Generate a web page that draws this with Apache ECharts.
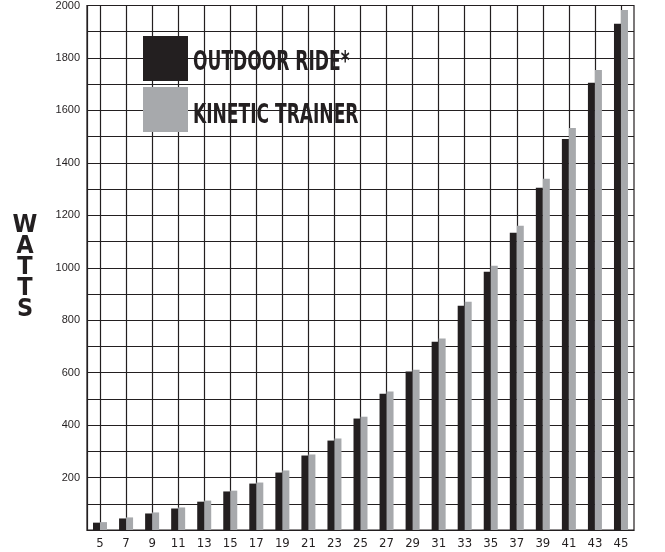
<!DOCTYPE html>
<html>
<head>
<meta charset="utf-8">
<script src="https://cdn.jsdelivr.net/npm/echarts@6/dist/echarts.min.js"></script>
<style>
html,body{margin:0;padding:0;background:#fff;}
#main{width:665px;height:552px;}
</style>
</head>
<body>
<div id="main"></div>
<script>
const speeds = ['5','7','9','11','13','15','17','19','21','23','25','27','29','31','33','35','37','39','41','43','45'];
const outdoorRide = [28,44,63,82,108,147,177,219,284,341,425,520,604,718,855,985,1133,1305,1491,1705,1930];
const kineticTrainer = [30,48,67,86,112,150,181,227,288,349,432,528,611,730,870,1008,1160,1339,1533,1754,1983];
const yTickLabels = [200,400,600,800,1000,1200,1400,1600,1800,2000];
const seriesNames = ['OUTDOOR RIDE*', 'KINETIC TRAINER'];

const ink = '#231f20';
const grey = '#a7a9ac';
const condensed = '"DejaVu Sans Condensed", "DejaVu Sans", sans-serif';
const chart = echarts.init(document.getElementById('main'));
chart.setOption({
  animation: false,
  backgroundColor: '#fff',
  grid: {left: 87, right: 31, top: 5, bottom: 22, show: true, borderColor: ink, borderWidth: 1.2, containLabel: false},
  legend: {
    orient: 'vertical', left: 143, top: 36, padding: 0,
    itemWidth: 45, itemHeight: 45, itemGap: 6,
    icon: 'rect',
    selectedMode: false,
    formatter: function () { return ''; },
    textStyle: {fontSize: 1},
    data: seriesNames
  },
  graphic: [
    {type: 'text', x: 193, y: 63, scaleX: 0.73, silent: true, z: 100,
      style: {x: 0, y: 0, text: seriesNames[0], fill: ink, font: 'bold 26px ' + condensed, textVerticalAlign: 'middle'}},
    {type: 'text', x: 193, y: 116, scaleX: 0.73, silent: true, z: 100,
      style: {x: 0, y: 0, text: seriesNames[1], fill: ink, font: 'bold 26px ' + condensed, textVerticalAlign: 'middle'}}
  ],
  xAxis: {
    type: 'category',
    data: speeds,
    boundaryGap: true,
    axisLine: {lineStyle: {color: ink, width: 1.2}},
    axisTick: {show: false},
    axisLabel: {margin: 7, fontFamily: condensed, fontSize: 13, color: ink, interval: 0},
    splitLine: {show: true, alignWithLabel: true, lineStyle: {color: ink, width: 1.2}}
  },
  yAxis: {
    type: 'value', min: 0, max: 2000, interval: 100,
    name: 'W\nA\nT\nT\nS',
    nameLocation: 'middle', nameRotate: 0, nameGap: 62,
    nameTextStyle: {fontFamily: condensed, fontWeight: 'bold', fontSize: 25, lineHeight: 21, color: ink, align: 'center', verticalAlign: 'middle'},
    axisLine: {show: true, lineStyle: {color: ink, width: 1.2}},
    axisTick: {show: false},
    axisLabel: {margin: 7, fontFamily: '"Liberation Sans", Arial, sans-serif', fontSize: 11, color: ink,
      formatter: function (v) { return yTickLabels.indexOf(v) >= 0 ? String(v) : ''; }},
    splitLine: {show: true, lineStyle: {color: ink, width: 1.2}}
  },
  series: [
    {name: seriesNames[0], type: 'bar', data: outdoorRide, barWidth: 7, barGap: '0%', itemStyle: {color: ink}},
    {name: seriesNames[1], type: 'bar', data: kineticTrainer, barWidth: 7, barGap: '0%', itemStyle: {color: grey}}
  ]
});
</script>
</body>
</html>
